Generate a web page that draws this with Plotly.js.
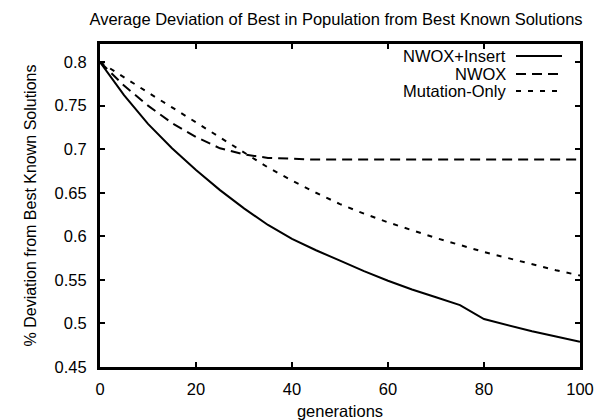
<!DOCTYPE html>
<html>
<head>
<meta charset="utf-8">
<script src="https://cdn.plot.ly/plotly-3.0.1.min.js"></script>
<style>html,body{margin:0;padding:0;background:#fff;}#chart{width:607px;height:420px;}</style>
</head>
<body>
<div id="chart"></div>
<script>
// Data
var generations = [0,5,10,15,20,25,30,35,40,45,50,55,60,65,70,75,80,85,90,95,100];
var nwoxInsert = [0.800,0.762,0.729,0.701,0.676,0.653,0.632,0.613,0.597,0.584,0.572,0.560,0.549,0.539,0.530,0.521,0.505,0.498,0.491,0.485,0.479];
var nwox       = [0.800,0.773,0.750,0.730,0.714,0.701,0.694,0.690,0.689,0.688,0.688,0.688,0.688,0.688,0.688,0.688,0.688,0.688,0.688,0.688,0.688];
var mutationOnly = [0.800,0.782,0.765,0.748,0.731,0.713,0.696,0.679,0.664,0.650,0.637,0.626,0.616,0.607,0.598,0.590,0.582,0.575,0.568,0.561,0.555];
var seriesNames = ["NWOX+Insert","NWOX","Mutation-Only"];
var xTicks = [0,20,40,60,80,100];
var yTicks = [0.45,0.5,0.55,0.6,0.65,0.7,0.75,0.8];
var yTickLabels = ["0.45","0.5","0.55","0.6","0.65","0.7","0.75","0.8"];

var dashes = ["solid","10px,6px","5px,7px"];
var seriesData = [nwoxInsert, nwox, mutationOnly];

var traces = seriesData.map(function(ys, i){
  return {x: generations, y: ys, type: "scatter", mode: "lines", name: seriesNames[i],
          line: {color: "#000", width: 2, dash: dashes[i]}, showlegend: false, hoverinfo: "skip"};
});

var fam = "Liberation Sans, Arial, sans-serif";
var font = {family: fam, size: 16.5, color: "#000"};

// custom legend: text on left, line sample on right
var legRowsPx = [56, 74, 91];
var plotTop = 44, plotBottom = 367, plotLeft = 100, plotRight = 580;
function py(p){ return (plotBottom - p) / (plotBottom - plotTop); }
function px(p){ return (p - plotLeft) / (plotRight - plotLeft); }
var annotations = [], shapes = [];
seriesNames.forEach(function(n, i){
  annotations.push({xref: "paper", yref: "paper", x: px(508), y: py(legRowsPx[i]), xanchor: "right", yanchor: "middle",
    text: n, showarrow: false, font: font});
  shapes.push({type: "line", xref: "paper", yref: "paper", x0: px(516), x1: px(562), y0: py(legRowsPx[i]), y1: py(legRowsPx[i]),
    line: {color: "#000", width: 2, dash: dashes[i]}});
});

var layout = {
  width: 607, height: 420,
  margin: {l: 100, r: 27, t: 44, b: 53},
  paper_bgcolor: "#fff", plot_bgcolor: "#fff",
  font: font,
  title: {text: "Average Deviation of Best in Population from Best Known Solutions",
          font: font,
          x: 336/607, xanchor: "center", xref: "container", y: 1 - 19/420, yanchor: "middle", yref: "container"},
  xaxis: {range: [0, 100], tickvals: xTicks, ticks: "inside", ticklen: 5, tickwidth: 2, tickcolor: "#000",
          showline: true, linewidth: 3, linecolor: "#000", mirror: "ticks", showgrid: false, zeroline: false,
          tickfont: font, ticklabelstandoff: 5,
          title: {text: "generations", font: font, standoff: 10}},
  yaxis: {range: [0.45, 0.8207], tickvals: yTicks, ticktext: yTickLabels, ticks: "inside", ticklen: 5, tickwidth: 2, tickcolor: "#000",
          showline: true, linewidth: 3, linecolor: "#000", mirror: "ticks", showgrid: false, zeroline: false,
          tickfont: font, ticklabelstandoff: 7,
          title: {text: "% Deviation from Best Known Solutions", font: {family: fam, size: 16, color: "#000"}, standoff: 14}},
  annotations: annotations,
  shapes: shapes,
  showlegend: false
};

Plotly.newPlot("chart", traces, layout, {displayModeBar: false, staticPlot: true});
</script>
</body>
</html>
